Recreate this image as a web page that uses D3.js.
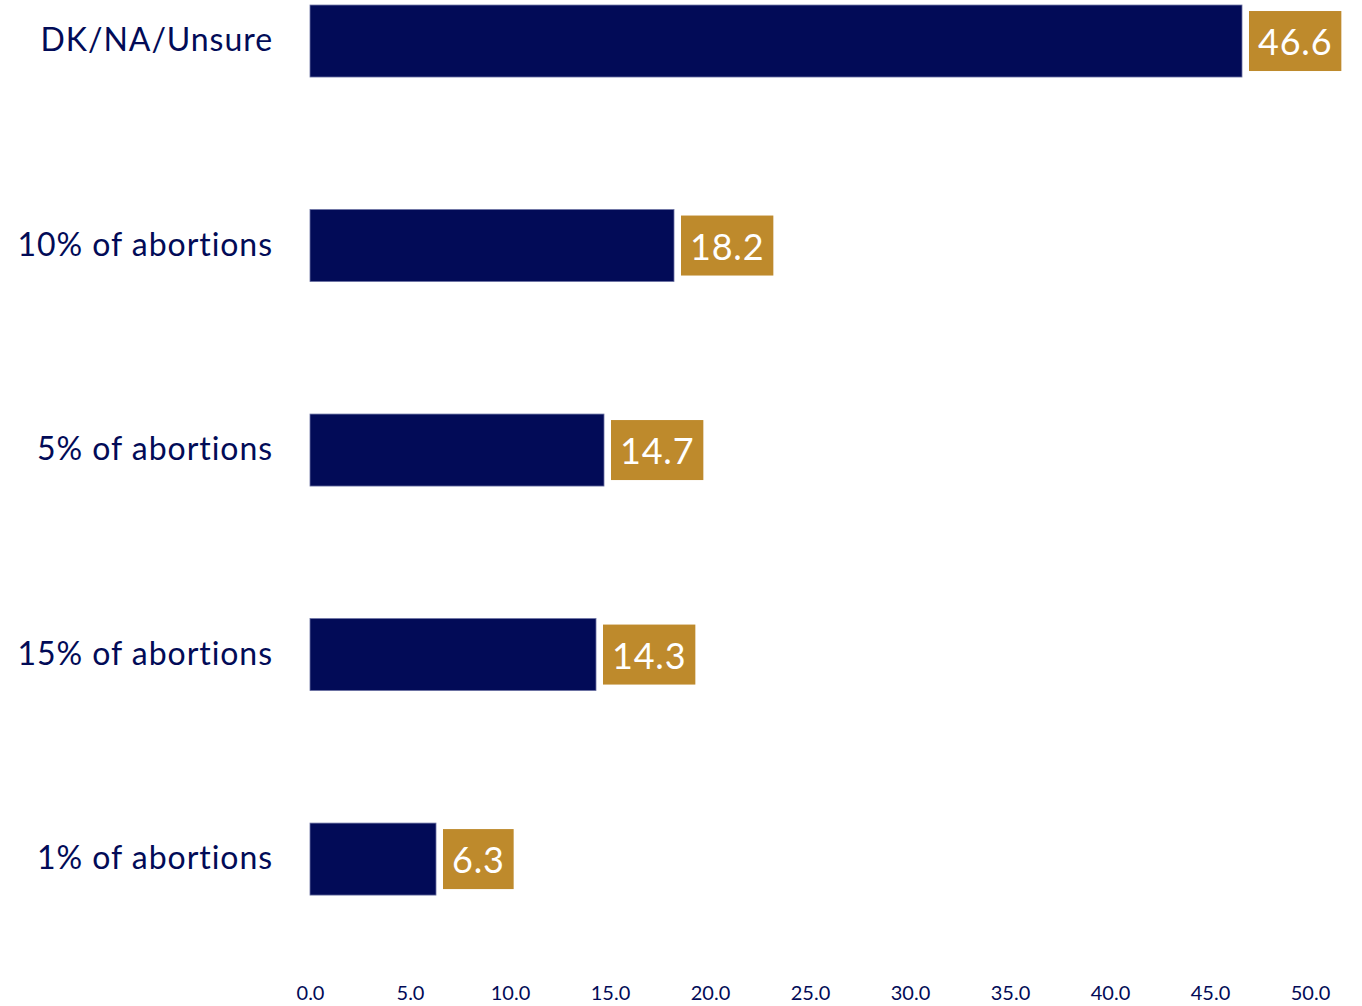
<!DOCTYPE html>
<html><head><meta charset="utf-8">
<script src="https://cdn.jsdelivr.net/npm/d3@7"></script>
<style>body{margin:0;background:#fff}</style>
</head><body>
<svg id="c" width="1362" height="1006"></svg>
<script>
const categories = ["DK/NA/Unsure","10% of abortions","5% of abortions","15% of abortions","1% of abortions"];
const values = [46.6, 18.2, 14.7, 14.3, 6.3];
const tickValues = [0,5,10,15,20,25,30,35,40,45,50];

const navy = "#020B57", gold = "#BE8A2C";
const font = "Lato, 'Open Sans', sans-serif";
const svg = d3.select("#c");
const x = d3.scaleLinear().domain([0,50]).range([310,1310]);
const y = d3.scaleBand().domain(categories).range([-127.5,1027.6]).paddingInner(0.648).paddingOuter(0.648);

svg.selectAll("rect.bar").data(categories).join("rect").attr("class","bar")
  .attr("x", x(0)).attr("y", d=>y(d))
  .attr("width", (d,i)=>x(values[i])-x(0)).attr("height", y.bandwidth())
  .attr("fill", navy).attr("stroke","#6b72a3").attr("stroke-width",0.8);

svg.selectAll("text.cat").data(categories).join("text").attr("class","cat")
  .attr("x", 273).attr("y", d=>y(d)+y.bandwidth()/2 - 2.5)
  .attr("text-anchor","end").attr("dominant-baseline","central")
  .attr("letter-spacing", 0.95)
  .attr("font-family", font).attr("font-size", 32).attr("fill", navy).text(d=>d);

const lg = svg.selectAll("g.lab").data(categories).join("g").attr("class","lab");
lg.each(function(d,i){
  const g = d3.select(this);
  const cy = y(d)+y.bandwidth()/2;
  const x0 = x(values[i]) + 7;
  const rect = g.append("rect").attr("fill", gold);
  const t = g.append("text").attr("x", x0+9).attr("y", cy)
    .attr("dominant-baseline","central").attr("font-family", font)
    .attr("letter-spacing", 0.8)
    .attr("font-size", 36).attr("fill","#fff").text(values[i].toFixed(1));
  const w = t.node().getComputedTextLength();
  rect.attr("x", x0).attr("y", cy-30).attr("width", w+18).attr("height", 60);
});

const axis = d3.axisBottom(x).tickValues(tickValues).tickFormat(d3.format(".1f")).tickSize(0).tickPadding(0);
const ag = svg.append("g").attr("transform","translate(0,986)").call(axis);
ag.select(".domain").remove();
ag.selectAll("text").attr("font-family", font).attr("font-size", 20).attr("fill", navy).attr("dy","0.71em");
</script>
</body></html>
